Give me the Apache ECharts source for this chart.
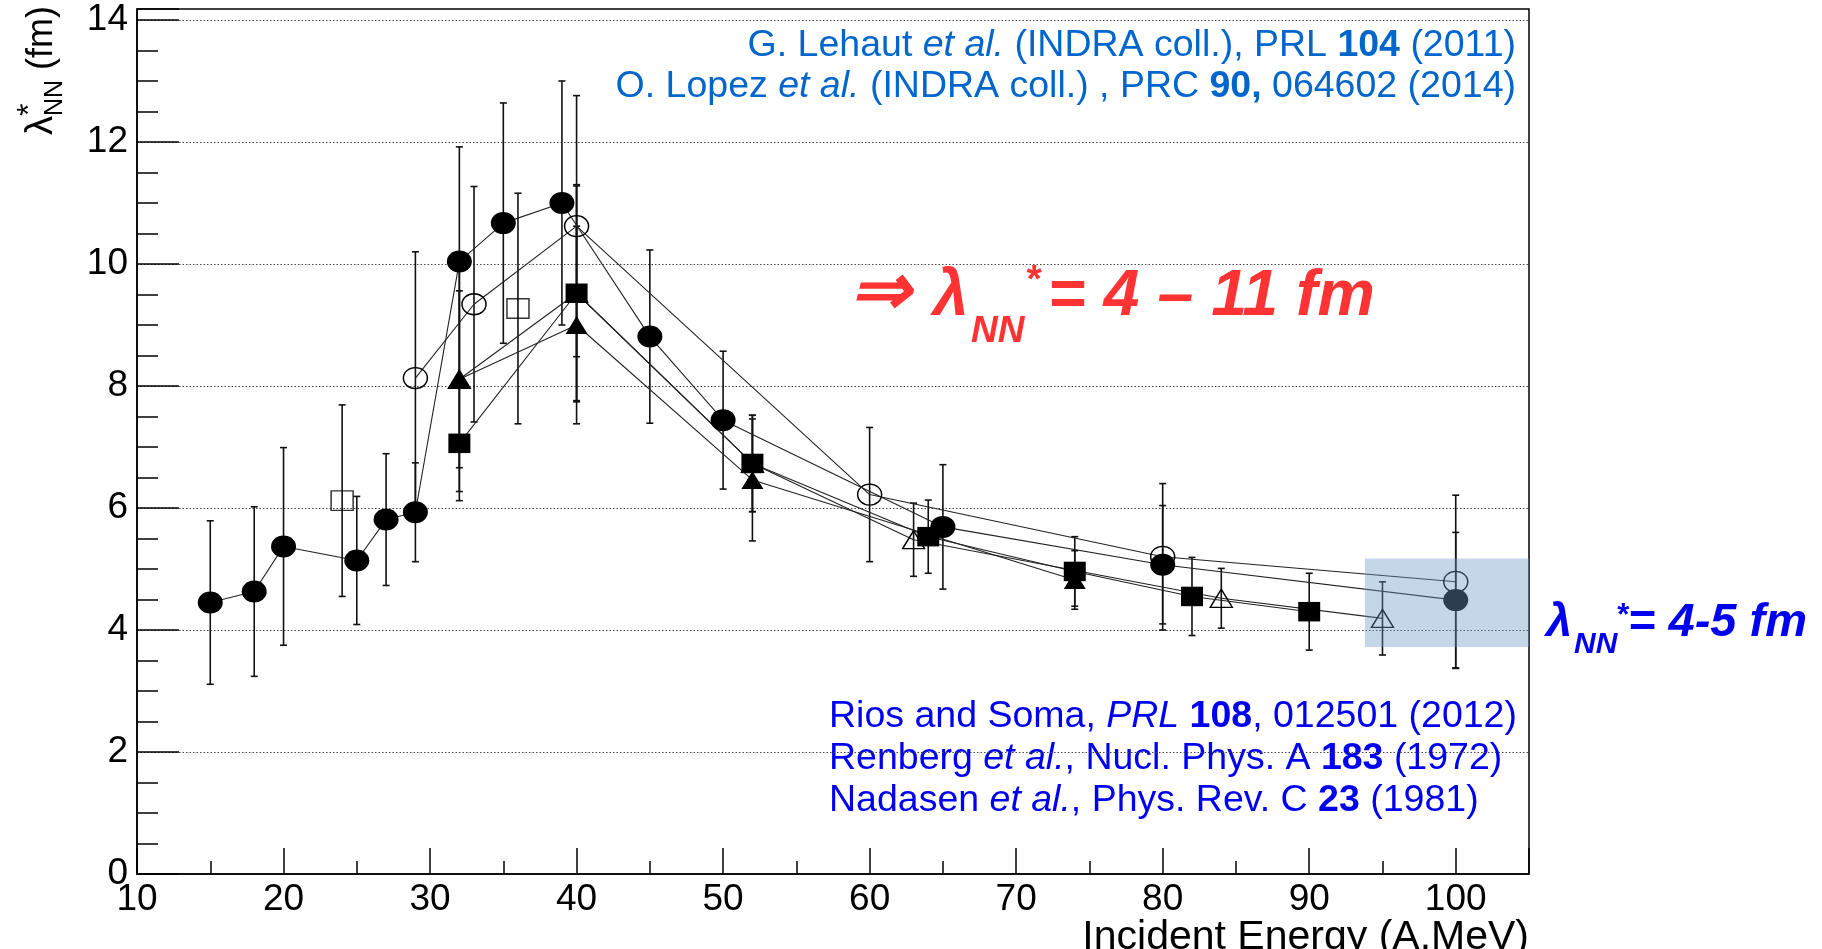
<!DOCTYPE html>
<html>
<head>
<meta charset="utf-8">
<title>lambda NN vs incident energy</title>
<script src="https://cdn.jsdelivr.net/npm/echarts@6/dist/echarts.min.js"></script>
<style>
  html, body { margin: 0; padding: 0; background: #fff; }
  #chart { width: 1822px; height: 949px; }
</style>
</head>
<body>
<div id="chart"></div>
<script>
// INDRA data, filled circles
const fcEnergy = [15, 18, 20, 25, 27, 29, 32, 35, 39, 45, 50, 65, 80, 100]
const fcLambda = [4.45, 4.63, 5.37, 5.14, 5.81, 5.93, 10.04, 10.67, 11.0, 8.81, 7.44, 5.69, 5.07, 4.49]
const fcError = [1.34, 1.39, 1.62, 1.05, 1.08, 0.81, 1.88, 1.97, 2.0, 1.42, 1.13, 1.02, 0.97, 1.11]
// open circles
const ocEnergy = [29, 33, 40, 60, 80, 100]
const ocLambda = [8.13, 9.34, 10.62, 6.22, 5.2, 4.79]
const ocError = [2.07, 1.93, 2.14, 1.1, 1.2, 1.42]
// filled squares
const fsEnergy = [32, 40, 52, 64, 74, 82, 90]
const fsLambda = [7.06, 9.52, 6.73, 5.53, 4.96, 4.55, 4.3]
const fsError = [0.94, 1.78, 0.79, 0.6, 0.57, 0.64, 0.63]
// filled triangles
const ftEnergy = [32, 40, 52, 74]
const ftLambda = [8.11, 9.0, 6.46, 4.82]
const ftError = [1.45, 1.62, 1.0, 0.48]
// open triangles
const otEnergy = [32, 40, 52, 63, 84, 95]
const otLambda = [8.11, 9.52, 6.73, 5.48, 4.52, 4.19]
const otError = [1.84, 1.76, 0.79, 0.6, 0.49, 0.6]
// open squares (no line)
const osEnergy = [24, 36]
const osLambda = [6.12, 9.27]
const osError = [1.57, 1.89]

// shaded band around the 4-5 fm region
const bandEnergy = [93.8, 105]
const bandLambda = [3.72, 5.17]

const xTicks = [10, 20, 30, 40, 50, 60, 70, 80, 90, 100]
const yTicks = [0, 2, 4, 6, 8, 10, 12, 14]

const FONT = 'Liberation Sans, Arial, sans-serif'
const ellipse = 'path://M0,10A10,10,0,1,1,20,10A10,10,0,1,1,0,10Z'

function pts(xs, ys) {
  return xs.map((x, i) => [x, ys[i]])
}
function bars(xs, ys, es) {
  return xs.map((x, i) => [x, ys[i] - es[i], ys[i] + es[i]])
}

const errData = [].concat(
  bars(fcEnergy, fcLambda, fcError),
  bars(ocEnergy, ocLambda, ocError),
  bars(fsEnergy, fsLambda, fsError),
  bars(ftEnergy, ftLambda, ftError),
  bars(otEnergy, otLambda, otError),
  bars(osEnergy, osLambda, osError)
)

const openStyle = { color: 'rgba(0,0,0,0)', borderColor: '#000', borderWidth: 1.4 }
const fillStyle = { color: '#000' }
const lineStyle = { color: '#222', width: 1.1 }

// text with baseline at y
function txt(x, baseline, text, size, extra) {
  return {
    type: 'text',
    x: x,
    y: baseline - 0.31 * size,
    silent: true,
    style: Object.assign({
      text: text,
      font: size + 'px ' + FONT,
      fill: '#000',
      align: 'left',
      verticalAlign: 'middle'
    }, extra || {})
  }
}
function richTxt(x, baseline, text, size, color, align) {
  return {
    type: 'text',
    x: x,
    y: baseline - 0.31 * size,
    silent: true,
    style: {
      text: text,
      fill: color,
      align: align,
      verticalAlign: 'middle',
      rich: {
        n: { fontSize: size, fontFamily: FONT, fill: color },
        i: { fontSize: size, fontFamily: FONT, fill: color, fontStyle: 'italic' },
        b: { fontSize: size, fontFamily: FONT, fill: color, fontWeight: 'bold' }
      }
    }
  }
}
function rot(x, y, text, size) {
  return {
    type: 'text',
    x: x,
    y: y,
    rotation: Math.PI / 2,
    silent: true,
    style: {
      text: text,
      font: size + 'px ' + FONT,
      fill: '#000',
      align: 'left',
      verticalAlign: 'middle'
    }
  }
}

const red = '#ff3333'
const blue = '#0000f0'
const topBlue = '#0066cc'
const bi = (size, color) => ({ font: 'italic bold ' + size + 'px ' + FONT, fill: color })

const chart = echarts.init(document.getElementById('chart'))
chart.setOption({
  animation: false,
  backgroundColor: '#fff',
  grid: {
    left: 137, top: 9, width: 1392, height: 865,
    show: true, borderColor: '#000', borderWidth: 1.5, backgroundColor: 'rgba(0,0,0,0)'
  },
  xAxis: [{
    type: 'value', min: 10, max: 105, interval: 10,
    axisLine: { show: true, lineStyle: { color: '#000', width: 1.5 } },
    axisTick: { inside: true, length: 26, lineStyle: { color: '#000', width: 1.5 } },
    axisLabel: {
      margin: 7, color: '#000', fontSize: 37, fontFamily: FONT,
      formatter: v => (xTicks.indexOf(v) >= 0 ? String(v) : '')
    },
    splitLine: { show: false }
  }, {
    type: 'value', min: 10, max: 105, interval: 5, position: 'bottom',
    axisLine: { show: false },
    axisTick: { inside: true, length: 13, lineStyle: { color: '#000', width: 1.5 } },
    axisLabel: { show: false },
    splitLine: { show: false }
  }],
  yAxis: [{
    type: 'value', min: 0, max: 14.18, interval: 2,
    axisLine: { show: true, lineStyle: { color: '#000', width: 1.5 } },
    axisTick: { inside: true, length: 42, lineStyle: { color: '#000', width: 1.5 } },
    axisLabel: {
      margin: 9, color: '#000', fontSize: 37, fontFamily: FONT,
      formatter: v => (yTicks.indexOf(v) >= 0 ? String(v) : '')
    },
    splitLine: { show: true, lineStyle: { color: '#444', width: 1.2, type: [1.5, 2] } }
  }, {
    type: 'value', min: 0, max: 14.18, interval: 0.5, position: 'left',
    axisLine: { show: false },
    axisTick: { inside: true, length: 21, lineStyle: { color: '#000', width: 1.5 } },
    axisLabel: { show: false },
    splitLine: { show: false }
  }],
  series: [
    {
      type: 'custom',
      name: 'errors',
      z: 2,
      silent: true,
      data: errData,
      encode: { x: 0, y: [1, 2] },
      renderItem(params, api) {
        const x = api.value(0)
        const hi = api.coord([x, api.value(2)])
        const lo = api.coord([x, api.value(1)])
        const cap = 3.5
        const style = { stroke: '#111', lineWidth: 1.6 }
        return {
          type: 'group',
          children: [
            { type: 'line', shape: { x1: hi[0], y1: hi[1], x2: lo[0], y2: lo[1] }, style },
            { type: 'line', shape: { x1: hi[0] - cap, y1: hi[1], x2: hi[0] + cap, y2: hi[1] }, style },
            { type: 'line', shape: { x1: lo[0] - cap, y1: lo[1], x2: lo[0] + cap, y2: lo[1] }, style }
          ]
        }
      }
    },
    {
      type: 'line', name: 'open triangles', z: 3,
      data: pts(otEnergy, otLambda),
      symbol: 'triangle', symbolSize: [22, 18],
      itemStyle: openStyle, lineStyle: lineStyle
    },
    {
      type: 'line', name: 'filled triangles', z: 4,
      data: pts(ftEnergy, ftLambda),
      symbol: 'triangle', symbolSize: [22, 18],
      itemStyle: fillStyle, lineStyle: lineStyle
    },
    {
      type: 'line', name: 'filled squares', z: 5,
      data: pts(fsEnergy, fsLambda),
      symbol: 'rect', symbolSize: [22, 19.5],
      itemStyle: fillStyle, lineStyle: lineStyle
    },
    {
      type: 'line', name: 'open circles', z: 6,
      data: pts(ocEnergy, ocLambda),
      symbol: ellipse, symbolSize: [24, 21],
      itemStyle: openStyle, lineStyle: lineStyle
    },
    {
      type: 'scatter', name: 'open squares', z: 6,
      data: pts(osEnergy, osLambda),
      symbol: 'rect', symbolSize: [22, 19.5],
      itemStyle: openStyle
    },
    {
      type: 'line', name: 'filled circles', z: 7,
      data: pts(fcEnergy, fcLambda),
      symbol: ellipse, symbolSize: [25, 22],
      itemStyle: fillStyle, lineStyle: lineStyle
    },
    {
      type: 'custom',
      name: 'band',
      z: 10,
      silent: true,
      data: [[bandEnergy[0], bandEnergy[1], bandLambda[0], bandLambda[1]]],
      encode: { x: [0, 1], y: [2, 3] },
      renderItem(params, api) {
        const a = api.coord([api.value(0), api.value(3)])
        const b = api.coord([api.value(1), api.value(2)])
        return {
          type: 'rect',
          shape: { x: a[0], y: a[1], width: b[0] - a[0], height: b[1] - a[1] },
          style: { fill: 'rgba(111,153,198,0.4)' }
        }
      }
    }
  ],
  graphic: [
    // axis titles
    txt(1529, 950, 'Incident Energy (A.MeV)', 41, { align: 'right' }),
    rot(42, 135, 'λ', 38),
    rot(30, 116, '*', 32),
    rot(55, 116, 'NN', 25),
    rot(42, 80, ' (fm)', 36),
    // references top right
    richTxt(1516, 57, '{n|G. Lehaut }{i|et al.}{n| (INDRA coll.), PRL }{b|104}{n| (2011)}', 37.5, topBlue, 'right'),
    richTxt(1516, 98, '{n|O. Lopez }{i|et al.}{n| (INDRA coll.) , PRC }{b|90,}{n| 064602 (2014)}', 37.5, topBlue, 'right'),
    // references bottom
    richTxt(829, 728, '{n|Rios and Soma, }{i|PRL}{n| }{b|108}{n|, 012501 (2012)}', 37.5, blue, 'left'),
    richTxt(829, 770, '{n|Renberg }{i|et al.}{n|, Nucl. Phys. A }{b|183}{n| (1972)}', 37.5, blue, 'left'),
    richTxt(829, 812, '{n|Nadasen }{i|et al.}{n|, Phys. Rev. C }{b|23}{n| (1981)}', 37.5, blue, 'left'),
    // red range
    txt(850, 316, '⇒', 72, bi(72, red)),
    txt(933, 317, 'λ', 64, bi(64, red)),
    txt(971, 343, 'NN', 37, bi(37, red)),
    txt(1025, 293, '*', 39, bi(39, red)),
    txt(1048, 317, '= 4 – 11 fm', 64.5, bi(64.5, red)),
    // blue range
    txt(1546, 638, 'λ', 47, bi(47, blue)),
    txt(1574, 654, 'NN', 30, bi(30, blue)),
    txt(1616, 626, '*', 31, bi(31, blue)),
    txt(1628, 638, '= 4-5 fm', 47, bi(47, blue))
  ]
})
</script>
</body>
</html>
